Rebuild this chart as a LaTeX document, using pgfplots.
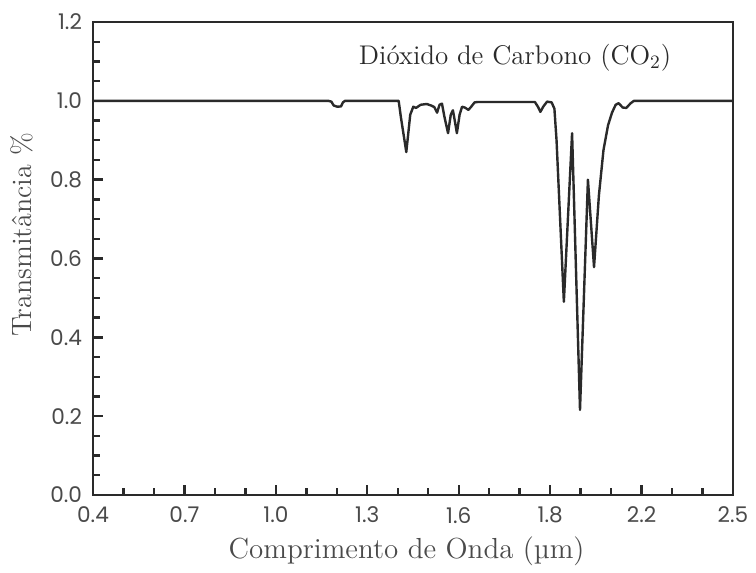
\documentclass[border=0pt]{standalone}
\usepackage{fontspec}
\usepackage{pgfplots}
\pgfplotsset{compat=1.18}
\newfontfamily\tickfont{Poppins}
\definecolor{labelgray}{HTML}{4A4A4A}
\definecolor{curve}{HTML}{2A2A2A}

\begin{document}
\begin{tikzpicture}
\begin{axis}[
  scale only axis,
  width=320pt, height=236.5pt,
  xmin=0.4, xmax=2.5, ymin=0, ymax=1.2,
  axis line style={line width=1.4pt, color=curve},
  every tick/.style={line width=1.2pt, color=curve},
  tick align=inside,
  xtick pos=lower, ytick pos=left,
  major tick length=5pt, minor tick length=3.5pt,
  xtick={0.4,0.7,1.0,1.3,1.6,1.9,2.2,2.5},
  xticklabels={0.4,0.7,1.0,1.3,1.6,1.8,2.2,2.5},
  minor x tick num=2,
  ytick={0,0.2,0.4,0.6,0.8,1.0,1.2},
  yticklabels={0.0,0.2,0.4,0.6,0.8,1.0,1.2},
  minor y tick num=3,
  /pgf/number format/assume math mode=true,
  tick label style={font=\tickfont\fontsize{10.8}{12}\selectfont, text=labelgray},
  xticklabel style={yshift=-2.5pt},
  yticklabel style={xshift=-2pt},
  xlabel={Comprimento de Onda (µm)},
  ylabel={Transmitância \%},
  every axis x label/.style={at={(axis description cs:0.49,0)}, anchor=center, yshift=-28pt,
    font=\fontsize{14.5}{16}\selectfont, text=labelgray},
  every axis y label/.style={at={(axis description cs:0,0.55)}, rotate=90, anchor=center, yshift=35.5pt,
    font=\fontsize{14}{16}\selectfont, text=labelgray},
  clip=false,
]
\addplot[line width=1.2pt, color=curve, line join=round] coordinates {
(0.400,1.000)
(1.172,1.000)
(1.182,0.998)
(1.190,0.988)
(1.202,0.985)
(1.214,0.986)
(1.220,0.996)
(1.227,1.000)
(1.403,1.000)
(1.410,0.960)
(1.428,0.870)
(1.441,0.965)
(1.451,0.985)
(1.460,0.982)
(1.475,0.990)
(1.495,0.992)
(1.510,0.988)
(1.520,0.984)
(1.529,0.970)
(1.537,0.990)
(1.545,0.993)
(1.553,0.960)
(1.565,0.918)
(1.574,0.965)
(1.581,0.976)
(1.587,0.950)
(1.594,0.918)
(1.603,0.965)
(1.611,0.985)
(1.620,0.983)
(1.632,0.977)
(1.642,0.986)
(1.652,0.996)
(1.662,0.997)
(1.850,0.997)
(1.860,0.985)
(1.868,0.972)
(1.878,0.986)
(1.890,0.998)
(1.905,0.996)
(1.914,0.980)
(1.921,0.900)
(1.945,0.490)
(1.972,0.918)
(1.998,0.216)
(2.024,0.800)
(2.044,0.578)
(2.060,0.760)
(2.075,0.875)
(2.090,0.938)
(2.103,0.970)
(2.115,0.990)
(2.125,0.994)
(2.138,0.983)
(2.150,0.982)
(2.163,0.993)
(2.175,1.000)
(2.500,1.000)
};
\node[font=\fontsize{13.5}{15}\selectfont, text=curve] at (axis cs:1.785,1.109) {Dióxido de Carbono (CO\textsubscript{2})};
\end{axis}
\path (current axis.south west) ++(-46.5pt,-38pt) coordinate (bbsw);
\path (current axis.north east) ++(11.5pt,11pt) coordinate (bbne);
\useasboundingbox (bbsw) rectangle (bbne);
\end{tikzpicture}
\end{document}
